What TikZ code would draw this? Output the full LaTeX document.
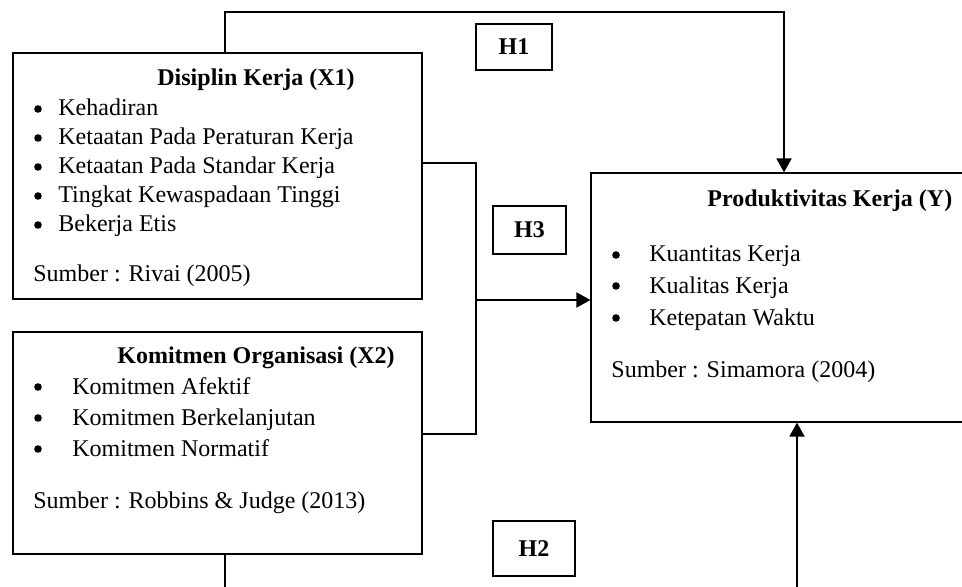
\documentclass[tikz,border=0pt]{standalone}
\usepackage{fontspec}
\setmainfont{Liberation Serif}
\usetikzlibrary{arrows.meta}
\tikzset{
  box/.style={draw=black, line width=0.6pt, rectangle, inner sep=0pt},
  hbox/.style={draw=black, line width=0.6pt, rectangle, inner sep=0pt, font=\fontsize{12}{14.5}\selectfont\bfseries},
  conn/.style={draw=black, line width=0.95pt},
  tip/.style={-{Triangle[length=7pt,width=7.5pt]}},
  txt/.style={anchor=base west, inner sep=0pt},
  bul/.style={circle, fill=black, inner sep=0pt, minimum size=3.8pt},
  ttl/.style={anchor=base west, inner sep=0pt, font=\fontsize{12}{14.5}\selectfont\bfseries},
}
\begin{document}
\begin{tikzpicture}[x=0.5pt, y=-0.5pt, font=\fontsize{12}{14.5}\selectfont]
\useasboundingbox (0,0) rectangle (962,587);
\clip (0,0) rectangle (962,587);
\fill[white] (0,0) rectangle (962,587);

% main boxes
\node[box, minimum width=204.5pt, minimum height=123pt] (x1) at (217.5,176) {};
\node[box, minimum width=204.5pt, minimum height=111pt] (x2) at (217.5,443) {};
\node[box, minimum width=192pt, minimum height=124.5pt] (y) at (783,297.5) {};

% hypothesis boxes
\node[hbox, minimum width=38pt, minimum height=23pt] (h1) at (514,47) {H1};
\node[hbox, minimum width=36.5pt, minimum height=24pt] (h3) at (529.5,230) {H3};
\node[hbox, minimum width=41pt, minimum height=27.5pt] (h2) at (534,548.5) {H2};

% X1 text
\node[ttl] (x1t) at (157,86) {Disiplin Kerja (X1)};
\node[bul] (x1b1) at (38,109) {}; \node[txt] (x1i1) at (58,116) {Kehadiran};
\node[bul] (x1b2) at (38,138) {}; \node[txt] (x1i2) at (58,145) {Ketaatan Pada Peraturan Kerja};
\node[bul] (x1b3) at (38,167) {}; \node[txt] (x1i3) at (58,174) {Ketaatan Pada Standar Kerja};
\node[bul] (x1b4) at (38,196) {}; \node[txt] (x1i4) at (58,203) {Tingkat Kewaspadaan Tinggi};
\node[bul] (x1b5) at (38,225) {}; \node[txt] (x1i5) at (58,232) {Bekerja Etis};
\node[txt] (x1s) at (33,282) {Sumber : Rivai (2005)};

% X2 text
\node[ttl] (x2t) at (117,363) {Komitmen Organisasi (X2)};
\node[bul] (x2b1) at (38,387) {}; \node[txt] (x2i1) at (72,394) {Komitmen Afektif};
\node[bul] (x2b2) at (38,418) {}; \node[txt] (x2i2) at (72,425) {Komitmen Berkelanjutan};
\node[bul] (x2b3) at (38,449) {}; \node[txt] (x2i3) at (72,456) {Komitmen Normatif};
\node[txt] (x2s) at (33,508) {Sumber : Robbins \& Judge (2013)};

% Y text
\node[ttl] (yt) at (707,207) {Produktivitas Kerja (Y)};
\node[bul] (yb1) at (616,255) {}; \node[txt] (yi1) at (649,262) {Kuantitas Kerja};
\node[bul] (yb2) at (616,286) {}; \node[txt] (yi2) at (649,293) {Kualitas Kerja};
\node[bul] (yb3) at (616,318) {}; \node[txt] (yi3) at (649,325) {Ketepatan Waktu};
\node[txt] (ys) at (611,377) {Sumber : Simamora (2004)};

% connector points
\coordinate (a1) at (225,12);
\coordinate (a2) at (784,12);
\coordinate (j1) at (476,163);
\coordinate (j2) at (476,434);
\coordinate (j3) at (476,300);
\coordinate (b1) at (225,610);
\coordinate (b2) at (797,610);

% H1
\draw[conn, tip] (x1.north -| a1) -- (a1) -- (a2) -- (y.north -| a2);
% H3
\draw[conn] (x1.east |- j1) -- (j1) -- (j2) -- (x2.east |- j2);
\draw[conn, tip] (j3) -- (y.west |- j3);
% H2
\draw[conn, tip] (x2.south -| b1) -- (b1) -- (b2) -- (y.south -| b2);
\end{tikzpicture}
\end{document}
